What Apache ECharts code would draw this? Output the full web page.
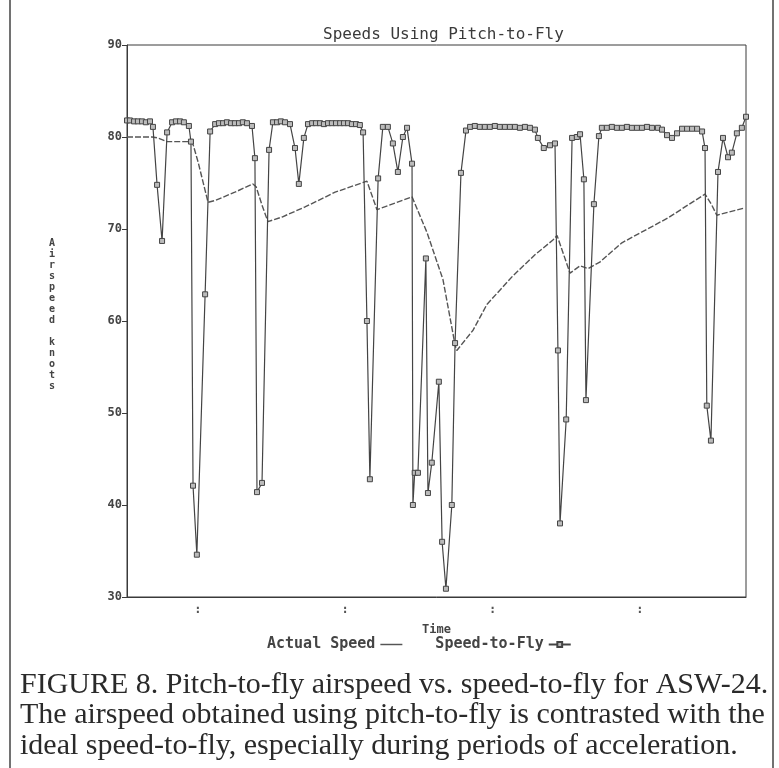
<!DOCTYPE html>
<html lang="en">
<head>
    <meta charset="UTF-8">
    <title>Speeds Using Pitch-to-Fly</title>
    <script src="https://cdn.jsdelivr.net/npm/echarts@6.0.0/dist/echarts.min.js"></script>
    <style type="text/css">
        html, body { margin: 0; padding: 0; background: #fff; }
        #chart { width: 779px; height: 768px; }
    </style>
</head>
<body>
<div id="chart"></div>
<script>
// speed-to-fly (line with square markers)
var stfTime = [0, 1.0, 2.4, 3.7, 5.1, 6.4, 7.8, 8.8, 10.2, 11.9, 13.6, 15.3, 16.6, 18.0, 19.3, 21.0, 21.7, 22.4, 23.7, 26.5,
    28.2, 29.9, 31.2, 32.6, 33.9, 35.3, 36.6, 38.0, 39.3, 40.7, 42.4, 43.4, 44.1, 45.8, 48.2, 49.5, 50.9, 52.2, 53.6, 55.3,
    57.0, 58.3, 60.0, 61.4, 62.8, 64.1, 65.5, 66.8, 68.2, 69.5, 70.9, 72.3, 73.6, 75.0, 76.3, 77.7, 79.0, 80.1, 81.4, 82.4,
    85.2, 86.8, 88.5, 90.2, 91.9, 93.6, 95.0, 96.7, 97.0, 97.6, 98.7, 101.4, 102.1, 103.4, 105.8, 106.9, 108.2, 110.2, 111.3, 113.3,
    115.0, 116.4, 118.0, 119.7, 121.4, 123.1, 124.8, 126.5, 128.2, 129.9, 131.6, 133.3, 135.0, 136.7, 138.4, 139.4, 141.4, 143.5, 145.2, 146.2,
    146.9, 149.0, 151.0, 152.6, 153.7, 155.0, 155.7, 158.4, 160.1, 161.1, 162.8, 164.5, 166.2, 167.9, 169.6, 171.3, 173.0, 174.7, 176.4,
    178.1, 180.1, 181.5, 183.2, 184.9, 186.6, 188.3, 190.0, 191.7, 193.4, 195.1, 196.1, 196.7, 198.1, 200.5, 202.2, 203.9, 205.2, 206.9, 208.6, 210];
var stfKnots = [81.8, 81.8, 81.7, 81.7, 81.7, 81.6, 81.7, 81.1, 74.8, 68.7, 80.5, 81.6, 81.7, 81.7, 81.6, 81.2, 79.5, 42.1, 34.6, 62.9,
    80.6, 81.4, 81.5, 81.5, 81.6, 81.5, 81.5, 81.5, 81.6, 81.5, 81.2, 77.7, 41.4, 42.4, 78.6, 81.6, 81.6, 81.7, 81.6, 81.4,
    78.8, 74.9, 79.9, 81.4, 81.5, 81.5, 81.5, 81.4, 81.5, 81.5, 81.5, 81.5, 81.5, 81.5, 81.4, 81.4, 81.3, 80.5, 60.0, 42.8,
    75.5, 81.1, 81.1, 79.3, 76.2, 80.0, 81.0, 77.1, 40.0, 43.5, 43.5, 66.8, 41.3, 44.6, 53.4, 36.0, 30.9, 40.0, 57.6, 76.1,
    80.7, 81.1, 81.2, 81.1, 81.1, 81.1, 81.2, 81.1, 81.1, 81.1, 81.1, 81.0, 81.1, 81.0, 80.8, 79.9, 78.8, 79.1, 79.3, 56.8,
    38.0, 49.3, 79.9, 80.0, 80.3, 75.4, 51.4, 72.7, 80.1, 81.0, 81.0, 81.1, 81.0, 81.0, 81.1, 81.0, 81.0, 81.0, 81.1,
    81.0, 81.0, 80.8, 80.2, 79.9, 80.4, 80.9, 80.9, 80.9, 80.9, 80.6, 78.8, 50.8, 47.0, 76.2, 79.9, 77.8, 78.3, 80.4, 81.0, 82.2];

// actual speed (plain line)
var actTime = [0, 8.5, 10.5, 13.6, 21.4, 22.4, 24.1, 25.8, 27.5, 29.9, 36.6, 42.7, 43.8, 45.8, 47.8, 52.6, 60.4, 70.6, 81.4, 84.8,
    96.7, 101.8, 107.2, 111.3, 111.9, 117.4, 122.1, 130.9, 138.4, 144.5, 145.9, 150.3, 153.7, 156.4, 160.4, 167.9, 183.5, 196.1, 198.4, 200.1, 209.6];
var actKnots = [80.0, 80.0, 79.9, 79.5, 79.5, 79.2, 77.3, 75.1, 72.9, 73.1, 74.0, 74.9, 74.6, 72.6, 70.8, 71.3, 72.4, 74.0, 75.2, 72.1,
    73.5, 69.6, 64.5, 57.4, 56.8, 59.0, 61.8, 64.9, 67.2, 68.8, 69.3, 65.2, 66.0, 65.7, 66.4, 68.5, 71.2, 73.8, 72.6, 71.5, 72.3];

var yTicks = [30, 40, 50, 60, 70, 80, 90];
var timeMarks = [24, 74, 124, 174];

var captionLines = [
    'FIGURE 8. Pitch-to-fly airspeed vs. speed-to-fly for ASW-24.',
    'The airspeed obtained using pitch-to-fly is contrasted with the',
    'ideal speed-to-fly, especially during periods of acceleration.'
];
var yName = 'Airspeed knots';

function pairs(xs, ys) {
    return xs.map(function (x, i) { return [x, ys[i]]; });
}

var mono = 'DejaVu Sans Mono';
var ink = '#3a3a3a';

var chart = echarts.init(document.getElementById('chart'));

// stacked letters for the y axis name, blank line between words
var stacked = yName.split('').map(function (c) { return c === ' ' ? '' : c; }).join('\n');

var caption = captionLines.map(function (line, i) {
    return {
        type: 'text',
        left: 20,
        top: 670 + i * 30.5,
        style: {
            text: line,
            font: '30px "Liberation Serif"',
            fill: '#2a2a2a'
        }
    };
});

var option = {
    animation: false,
    backgroundColor: '#fff',
    title: {
        text: 'Speeds Using Pitch-to-Fly',
        left: 318,
        top: 22,
        textStyle: { fontFamily: mono, fontSize: 16, fontWeight: 'normal', color: ink }
    },
    legend: {
        data: [
            { name: 'Actual Speed', icon: 'path://M0,0H24V1.6H0Z' },
            { name: 'Speed-to-Fly' }
        ],
        top: 632,
        left: 262,
        align: 'right',
        itemGap: 33,
        itemWidth: 22,
        itemHeight: 6,
        textStyle: { fontFamily: mono, fontSize: 15, fontWeight: 'bold', color: '#444' }
    },
    grid: { left: 127, right: 33, top: 45, bottom: 171, show: true, borderColor: ink, borderWidth: 1 },
    xAxis: {
        type: 'value',
        min: 0,
        max: 210,
        name: 'Time',
        nameLocation: 'middle',
        nameGap: 27,
        nameTextStyle: { fontFamily: mono, fontSize: 12, fontWeight: 'bold', color: '#444' },
        axisLine: { lineStyle: { color: ink } },
        axisTick: { show: false },
        splitLine: { show: false },
        axisLabel: {
            customValues: timeMarks,
            formatter: function () { return ':'; },
            fontFamily: mono,
            fontSize: 12,
            fontWeight: 'bold',
            color: '#555',
            margin: 7
        }
    },
    yAxis: {
        type: 'value',
        min: 30,
        max: 90,
        interval: 10,
        axisLine: { lineStyle: { color: ink } },
        axisTick: { show: true, length: 5, lineStyle: { color: ink } },
        splitLine: { show: false },
        axisLabel: {
            customValues: yTicks,
            fontFamily: mono,
            fontSize: 12,
            fontWeight: 'bold',
            color: '#444',
            margin: 5
        }
    },
    graphic: [
        {
            type: 'text',
            left: 49,
            top: 238,
            style: {
                text: stacked,
                font: 'bold 10px "DejaVu Sans Mono"',
                lineHeight: 11,
                fill: '#444',
                align: 'center'
            }
        },
        {
            type: 'rect',
            shape: { x: 10, y: -2, width: 763, height: 772 },
            style: { fill: 'none', stroke: '#444', lineWidth: 1.5 },
            silent: true
        }
    ].concat(caption),
    series: [
        {
            name: 'Actual Speed',
            type: 'line',
            data: pairs(actTime, actKnots),
            symbol: 'none',
            lineStyle: { color: '#555', width: 1.4, type: [6, 2] },
            itemStyle: { color: '#555' },
            z: 2
        },
        {
            name: 'Speed-to-Fly',
            type: 'line',
            data: pairs(stfTime, stfKnots),
            symbol: 'rect',
            symbolSize: 5,
            showAllSymbol: true,
            lineStyle: { color: '#444', width: 1.2 },
            itemStyle: { color: '#bbb', borderColor: '#444', borderWidth: 1 },
            z: 3
        }
    ]
};

chart.setOption(option);
</script>
</body>
</html>
